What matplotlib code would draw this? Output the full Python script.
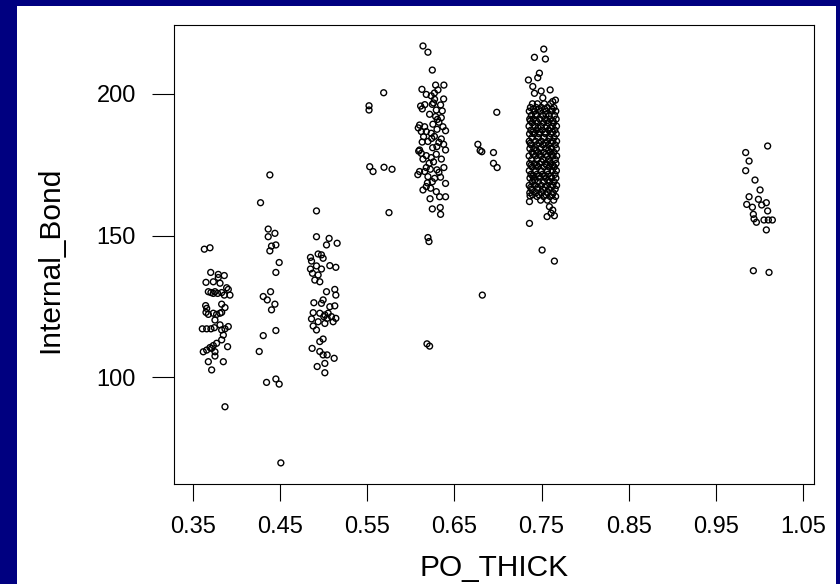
import matplotlib
matplotlib.use("Agg")
import matplotlib.pyplot as plt
from matplotlib.patches import Rectangle

plt.rcParams['font.family'] = ['Liberation Sans', 'DejaVu Sans']

# ---- data (PO_THICK vs Internal_Bond) ----
thick_037 = [0.363, 0.3695, 0.3703, 0.379, 0.3859, 0.379, 0.3649, 0.3733, 0.381, 0.3886,
             0.3905, 0.3924, 0.3752, 0.3676, 0.3706, 0.3733, 0.3783, 0.3829, 0.3859, 0.3829,
             0.3867, 0.3645, 0.3657, 0.3649, 0.3676, 0.3733, 0.3771, 0.381, 0.3829, 0.3752,
             0.381, 0.3905, 0.3607, 0.3657, 0.3706, 0.3745, 0.3829, 0.3867, 0.3848, 0.3829,
             0.3771, 0.3733, 0.3695, 0.3657, 0.3618, 0.3714, 0.3752, 0.3897, 0.3676, 0.3752,
             0.3848, 0.3714, 0.3867]
bond_037 = [145.2, 145.7, 137.0, 136.3, 135.9, 135.2, 133.5, 133.7, 133.2, 131.6,
            131.0, 129.0, 130.2, 130.2, 129.9, 129.6, 129.6, 129.9, 129.0, 125.8,
            124.6, 125.3, 124.3, 122.9, 122.2, 122.6, 122.2, 122.6, 122.9, 120.2,
            118.5, 117.9, 117.1, 117.1, 117.1, 117.5, 116.7, 117.1, 114.9, 113.2,
            112.0, 111.2, 110.5, 109.6, 109.0, 110.2, 109.0, 110.8, 105.5, 107.5,
            105.5, 102.6, 89.6]

thick_044 = [0.4382, 0.4275, 0.4363, 0.4440, 0.4363, 0.4401, 0.4451, 0.4382, 0.4489, 0.4451,
             0.4390, 0.4306, 0.4352, 0.4440, 0.4401, 0.4306, 0.4451, 0.4260, 0.4344, 0.4451,
             0.4489, 0.4508]
bond_044 = [171.4, 161.6, 152.3, 150.8, 149.6, 146.3, 146.7, 144.6, 140.5, 137.0,
            130.2, 128.5, 127.3, 125.8, 123.8, 114.7, 116.5, 109.1, 98.2, 99.4,
            97.6, 69.8]

thick_050 = [0.4917, 0.4917, 0.5062, 0.5154, 0.5032, 0.4936, 0.4974, 0.4848, 0.4993, 0.4860,
             0.4917, 0.5070, 0.5139, 0.4848, 0.4974, 0.4871, 0.4936, 0.4898, 0.4955, 0.5032,
             0.5127, 0.5139, 0.4887, 0.4974, 0.4993, 0.5070, 0.5127, 0.4879, 0.4955, 0.5013,
             0.5051, 0.5089, 0.5139, 0.5108, 0.4860, 0.4936, 0.4879, 0.4917, 0.5013, 0.5001,
             0.5039, 0.4955, 0.4993, 0.4867, 0.4955, 0.4993, 0.5039, 0.5120, 0.5013, 0.4925,
             0.5013]
bond_050 = [158.7, 149.6, 149.0, 147.3, 146.7, 143.5, 143.2, 142.3, 142.0, 141.0,
            139.3, 139.4, 138.8, 138.2, 138.2, 136.7, 136.1, 134.3, 133.7, 130.2,
            131.0, 129.0, 126.3, 126.1, 127.3, 124.9, 125.2, 122.8, 122.6, 122.0,
            122.6, 121.4, 120.8, 119.6, 120.6, 119.6, 118.1, 116.7, 119.0, 121.4,
            120.8, 112.6, 113.5, 110.2, 109.1, 107.9, 107.9, 106.7, 104.9, 103.8,
            101.6]

thick_056 = [0.5520, 0.5520, 0.5688, 0.5528, 0.5566, 0.5692, 0.5784, 0.5749]
bond_056 = [195.8, 194.3, 200.4, 174.3, 172.6, 174.1, 173.4, 158.1]

thick_062 = [0.6139, 0.6196, 0.6246, 0.6284, 0.6379, 0.6127, 0.6177, 0.6234, 0.6311, 0.6376,
             0.6272, 0.6246, 0.6341, 0.6112, 0.6131, 0.6292, 0.6360, 0.6215, 0.6284, 0.6349,
             0.6322, 0.6253, 0.6100, 0.6158, 0.6368, 0.6398, 0.6120, 0.6177, 0.6234, 0.6146,
             0.6196, 0.6349, 0.6322, 0.6376, 0.6299, 0.6398, 0.6100, 0.6120, 0.6177, 0.6234,
             0.6139, 0.6292, 0.6177, 0.6100, 0.6158, 0.6223, 0.6299, 0.6379, 0.6322, 0.6196,
             0.6273, 0.6246, 0.6398, 0.6177, 0.6139, 0.6227, 0.6292, 0.6330, 0.6398, 0.6246,
             0.6337, 0.6341, 0.6196, 0.6208, 0.6185, 0.6215,
             0.6085, 0.6090, 0.6080, 0.6260, 0.6300, 0.6270, 0.6250, 0.6210, 0.6190, 0.6260,
             0.6305, 0.6160, 0.6270, 0.6340, 0.6220, 0.6350, 0.6130, 0.6240]
bond_062 = [216.9, 214.7, 208.4, 203.1, 203.1, 201.6, 199.8, 199.3, 201.4, 198.2,
            198.1, 196.3, 196.1, 195.7, 194.7, 194.3, 194.0, 192.8, 192.0, 191.6,
            190.0, 189.3, 189.0, 188.4, 188.4, 187.0, 186.7, 186.7, 186.1, 184.9,
            183.2, 184.1, 182.9, 182.2, 181.4, 180.2, 180.2, 179.0, 178.2, 177.5,
            177.0, 178.7, 174.0, 172.6, 172.6, 173.4, 173.2, 174.0, 172.3, 170.8,
            170.2, 169.0, 168.4, 167.3, 166.1, 166.7, 165.5, 163.7, 163.7, 159.4,
            159.9, 157.5, 149.3, 147.9, 111.8, 111.0,
            188.0, 179.8, 171.5, 196.8, 187.5, 185.0, 181.0, 175.5, 168.6, 176.0,
            191.0, 196.2, 200.3, 170.6, 163.0, 177.0, 183.0, 184.3]

thick_069 = [0.6986, 0.6769, 0.6795, 0.6814, 0.6948, 0.6948, 0.6990, 0.6820]
bond_069 = [193.5, 182.2, 180.0, 179.6, 179.3, 175.5, 174.0, 129.0]

thick_075_edge = [0.7525, 0.7418, 0.7544, 0.7475, 0.7456, 0.7349, 0.7399, 0.7598, 0.7495, 0.7659,
                  0.7418, 0.7514, 0.7628, 0.7361, 0.7368, 0.7563, 0.7647, 0.7361, 0.7506, 0.7647,
                  0.7590, 0.7628, 0.7609]
bond_075_edge = [215.8, 212.9, 212.3, 207.3, 205.7, 204.9, 202.6, 201.4, 201.0, 197.8,
                 200.2, 198.6, 197.3, 162.0, 164.0, 156.7, 157.0, 154.3, 144.9, 141.0,
                 160.2, 159.0, 157.9]

bond_075_rows = [196.5, 195.2, 193.9, 192.4, 191.1, 189.8, 188.6, 187.2, 185.9, 184.6,
                 183.3, 182.0, 180.7, 179.4, 178.1, 176.8, 175.4, 174.2, 172.9, 171.6,
                 170.3, 169.0, 167.7, 166.4, 165.1, 163.8, 162.5,
                 194.6, 190.5, 186.5, 182.6, 178.7, 174.8, 170.9, 167.0, 164.4,
                 192.8, 188.0, 180.0, 176.0, 169.5]
thick_075_rows = [
    [0.7395, 0.7452, 0.7531, 0.7604],
    [0.7372, 0.7438, 0.7497, 0.7566, 0.7641],
    [0.7359, 0.7421, 0.7489, 0.7552, 0.7618, 0.7663],
    [0.7383, 0.7447, 0.7512, 0.7587, 0.7649],
    [0.7364, 0.7406, 0.7478, 0.7539, 0.7601, 0.7667],
    [0.7391, 0.7455, 0.7523, 0.7575, 0.7638],
    [0.7356, 0.7426, 0.7493, 0.7561, 0.7622, 0.7671],
    [0.7378, 0.7441, 0.7507, 0.7583, 0.7652],
    [0.7362, 0.7415, 0.7472, 0.7546, 0.7609, 0.7668],
    [0.7389, 0.7459, 0.7528, 0.7592, 0.7644],
    [0.7358, 0.7431, 0.7498, 0.7569, 0.7627, 0.7672],
    [0.7381, 0.7443, 0.7516, 0.7578, 0.7655],
    [0.7366, 0.7412, 0.7484, 0.7551, 0.7613, 0.7669],
    [0.7393, 0.7462, 0.7525, 0.7596, 0.7641],
    [0.7357, 0.7428, 0.7491, 0.7564, 0.7631, 0.7673],
    [0.7385, 0.7449, 0.7518, 0.7581, 0.7657],
    [0.7363, 0.7417, 0.7476, 0.7543, 0.7606, 0.7666],
    [0.7392, 0.7457, 0.7529, 0.7589, 0.7646],
    [0.7359, 0.7433, 0.7495, 0.7567, 0.7624, 0.7670],
    [0.7379, 0.7446, 0.7511, 0.7577, 0.7653],
    [0.7367, 0.7409, 0.7481, 0.7548, 0.7615, 0.7664],
    [0.7394, 0.7461, 0.7527, 0.7593, 0.7643],
    [0.7358, 0.7425, 0.7496, 0.7562, 0.7629, 0.7672],
    [0.7384, 0.7451, 0.7514, 0.7585, 0.7656],
    [0.7365, 0.7436, 0.7502, 0.7571, 0.7634],
    [0.7448, 0.7523, 0.7597, 0.7661],
    [0.7489, 0.7566, 0.7639],
    [0.7405, 0.7468, 0.7536, 0.7620],
    [0.7372, 0.7440, 0.7560, 0.7630],
    [0.7400, 0.7480, 0.7540, 0.7625],
    [0.7370, 0.7470, 0.7545, 0.7610],
    [0.7405, 0.7475, 0.7548, 0.7615],
    [0.7378, 0.7440, 0.7560, 0.7628],
    [0.7400, 0.7470, 0.7535, 0.7605],
    [0.7375, 0.7455, 0.7540, 0.7612],
    [0.7395, 0.7470, 0.7548, 0.7622],
    [0.7430, 0.7550],
    [0.7460, 0.7600],
    [0.7440, 0.7580],
    [0.7500, 0.7595],
    [0.7420, 0.7570],
]

thick_100 = [1.0094, 0.9842, 0.9881, 0.9842, 0.9949, 1.0007, 0.9881, 0.9988, 0.9854, 0.9919,
             1.0026, 1.0079, 1.0094, 0.9930, 0.9938, 0.9965, 1.0052, 1.0102, 1.0148, 1.0079,
             0.9930, 1.0110]
bond_100 = [181.6, 179.3, 176.3, 172.9, 169.6, 166.1, 163.7, 162.8, 161.0, 160.0,
            160.8, 161.6, 158.7, 157.5, 155.9, 154.7, 155.5, 155.5, 155.5, 152.0,
            137.6, 137.0]

x_ticks = [0.35, 0.45, 0.55, 0.65, 0.75, 0.85, 0.95, 1.05]
x_tick_labels = ['0.35', '0.45', '0.55', '0.65', '0.75', '0.85', '0.95', '1.05']
y_ticks = [100, 150, 200]
y_tick_labels = ['100', '150', '200']

# ---- assemble ----
xs, ys = [], []
for tx, by in [(thick_037, bond_037), (thick_044, bond_044), (thick_050, bond_050),
               (thick_056, bond_056), (thick_062, bond_062), (thick_069, bond_069),
               (thick_075_edge, bond_075_edge), (thick_100, bond_100)]:
    n = min(len(tx), len(by))
    xs += list(tx[:n]); ys += list(by[:n])
for row_y, row_x in zip(bond_075_rows, thick_075_rows):
    xs += row_x; ys += [row_y] * len(row_x)

W, H = 840, 584
fig = plt.figure(figsize=(W / 100, H / 100), dpi=100)
fig.patch.set_facecolor('#000080')
fig.add_artist(Rectangle((17 / W, 0), (836 - 17) / W, (H - 6) / H,
                         transform=fig.transFigure, facecolor='white',
                         edgecolor='none', zorder=-10))

ax = fig.add_axes([174 / W, 1 - 484 / H, (814 - 174) / W, (484 - 25) / H])
ax.scatter(xs, ys, s=18, facecolors='none', edgecolors='black', linewidths=1.0)
ax.set_xlim(0.3282, 1.0626)
ax.set_ylim(62.35, 224.3)
ax.set_xticks(x_ticks)
ax.set_xticklabels(x_tick_labels)
ax.set_yticks(y_ticks)
ax.set_yticklabels(y_tick_labels)
ax.tick_params(axis='x', length=12.2, width=0.8, pad=10.5, labelsize=17, colors='black')
ax.tick_params(axis='y', length=15.8, width=0.8, pad=11.5, labelsize=17, colors='black')
for sp in ax.spines.values():
    sp.set_linewidth(0.8)
    sp.set_color('black')

ax.set_xlabel('PO_THICK', fontsize=21.5)
ax.set_ylabel('Internal_Bond', fontsize=21.5)
ax.xaxis.label.set_va('center')
ax.yaxis.label.set_va('center')
ax.xaxis.set_label_coords(0.5, -0.182)
ax.yaxis.set_label_coords(-0.194, 0.488)

fig.savefig('out.png', dpi=100, facecolor=fig.get_facecolor())
